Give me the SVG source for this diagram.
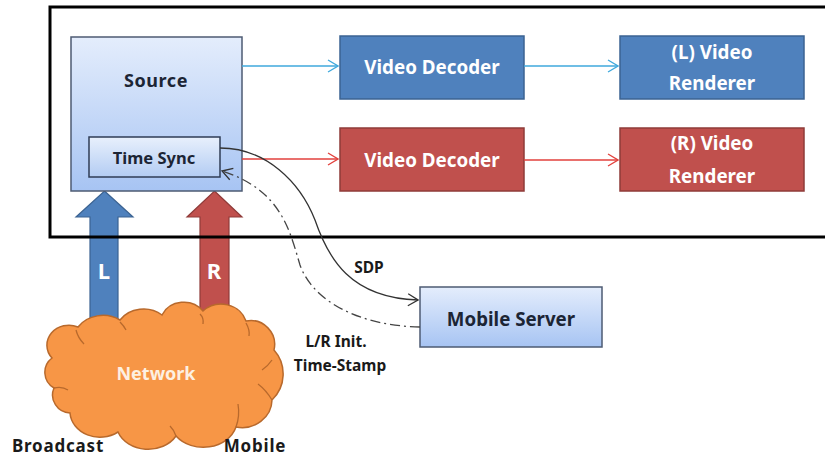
<svg xmlns="http://www.w3.org/2000/svg" width="825" height="459" viewBox="0 0 825 459">
  <style>
    .lbl { font-family: "Noto Sans", "Open Sans", sans-serif; font-weight: bold; text-anchor: middle; dominant-baseline: central; }
    .dark { fill: #1c2535; }
    .white { fill: #ffffff; }
    .blueBox { fill: #4f81bd; stroke: #3b6392; stroke-width: 1.5; }
    .redBox { fill: #c0504d; stroke: #8f3b39; stroke-width: 1.5; }
    .lightBox { fill: url(#lightBlue); stroke: #4d5b73; stroke-width: 1.5; }
    .conn { fill: none; stroke-width: 1.3; }
  </style>
  <defs>
    <linearGradient id="lightBlue" x1="0" y1="0" x2="0" y2="1">
      <stop offset="0" stop-color="#e4edfc"/>
      <stop offset="1" stop-color="#a7c4f3"/>
    </linearGradient>
    <linearGradient id="syncGrad" x1="0" y1="0" x2="0" y2="1">
      <stop offset="0" stop-color="#e8f0fc"/>
      <stop offset="1" stop-color="#b3ccf3"/>
    </linearGradient>
    <marker id="arrBlue" markerUnits="userSpaceOnUse" markerWidth="12" markerHeight="14" viewBox="0 0 12 14" refX="11" refY="7" orient="auto">
      <path d="M1,1 L11,7 L1,13" fill="none" stroke="#3fa9dd" stroke-width="1.3"/>
    </marker>
    <marker id="arrRed" markerUnits="userSpaceOnUse" markerWidth="12" markerHeight="14" viewBox="0 0 12 14" refX="11" refY="7" orient="auto">
      <path d="M1,1 L11,7 L1,13" fill="none" stroke="#e2403c" stroke-width="1.3"/>
    </marker>
    <marker id="arrDark" markerUnits="userSpaceOnUse" markerWidth="12" markerHeight="14" viewBox="0 0 12 14" refX="11" refY="7" orient="auto">
      <path d="M1,1 L11,7 L1,13" fill="none" stroke="#333333" stroke-width="1.3"/>
    </marker>
  </defs>

  <rect width="825" height="459" fill="#ffffff"/>

  <!-- block arrows from the network up into the source -->
  <g id="arrow-L">
    <path d="M104.5,191 L133,217 L118,217 L118,330 L90,330 L90,217 L76,217 Z" fill="#4f81bd" stroke="#3b6392" stroke-width="1.2"/>
    <text class="lbl white" x="104" y="270" font-size="22">L</text>
  </g>
  <g id="arrow-R">
    <path d="M214.5,191 L242,217 L229,217 L229,330 L200,330 L200,217 L187,217 Z" fill="#c0504d" stroke="#8f3b39" stroke-width="1.2"/>
    <text class="lbl white" x="214" y="270" font-size="22">R</text>
  </g>

  <!-- receiver frame -->
  <rect id="frame" x="50" y="7" width="790" height="230" fill="none" stroke="#000000" stroke-width="3"/>

  <g id="source">
    <rect class="lightBox" x="71" y="37" width="171" height="154"/>
    <text class="lbl dark" x="156" y="80" font-size="18" letter-spacing="0.6">Source</text>
  </g>
  <g id="time-sync">
    <rect x="89" y="137" width="131" height="40" fill="url(#syncGrad)" stroke="#2f3d55" stroke-width="1.5"/>
    <text class="lbl dark" x="154" y="157" font-size="16.5">Time Sync</text>
  </g>

  <g id="decoder-L">
    <rect class="blueBox" x="340" y="36" width="184" height="63"/>
    <text class="lbl white" x="432" y="67" font-size="18.8">Video Decoder</text>
  </g>
  <g id="renderer-L">
    <rect class="blueBox" x="620" y="36" width="184" height="63"/>
    <text class="lbl white" x="712" y="52" font-size="18.8">(L) Video</text>
    <text class="lbl white" x="712" y="83" font-size="18.8">Renderer</text>
  </g>
  <g id="decoder-R">
    <rect class="redBox" x="340" y="128" width="184" height="63"/>
    <text class="lbl white" x="432" y="160" font-size="18.8">Video Decoder</text>
  </g>
  <g id="renderer-R">
    <rect class="redBox" x="620" y="128" width="184" height="63"/>
    <text class="lbl white" x="712" y="143" font-size="18.8">(R) Video</text>
    <text class="lbl white" x="712" y="176" font-size="18.8">Renderer</text>
  </g>

  <g id="mobile-server">
    <rect class="lightBox" x="420" y="287" width="182" height="60"/>
    <text class="lbl dark" x="511" y="318" font-size="18.7">Mobile Server</text>
  </g>

  <!-- network cloud -->
  <g id="network">
    <path d="M52,358 A22,20 0 0 1 78,327 A30,26 0 0 1 120,320 A28,24 0 0 1 162,315 A24,22 0 0 1 203,311 A26,24 0 0 1 246,321 A24,24 0 0 1 274,350 A36,36 0 0 1 272,400 A30,28 0 0 1 236,427 A34,28 0 0 1 176,436 A32,26 0 0 1 118,432 A30,26 0 0 1 70,413 A18,18 0 0 1 54,388 A18,18 0 0 1 52,358 Z" fill="#f79646" stroke="#b8692c" stroke-width="1.5"/>
    <g fill="none" stroke="#b8692c" stroke-width="1.3">
      <path d="M54,388 Q62,386 68,390"/>
      <path d="M76,330 Q78,338 84,344"/>
      <path d="M120,322 Q124,326 126,330"/>
      <path d="M200,314 Q204,318 203,324"/>
      <path d="M246,323 Q250,330 249,336"/>
      <path d="M272,360 Q268,366 262,370"/>
      <path d="M272,400 Q266,390 258,384"/>
      <path d="M236,427 Q240,416 238,404"/>
      <path d="M176,436 Q174,430 170,426"/>
    </g>
    <text class="lbl" x="156" y="373" font-size="18" fill="#fdf0e2">Network</text>
  </g>

  <!-- connectors -->
  <g id="connectors">
    <path class="conn" d="M242,66 L338,66" stroke="#3fa9dd" marker-end="url(#arrBlue)"/>
    <path class="conn" d="M524,66 L618,66" stroke="#3fa9dd" marker-end="url(#arrBlue)"/>
    <path class="conn" d="M242,159 L338,159" stroke="#e2403c" marker-end="url(#arrRed)"/>
    <path class="conn" d="M524,160 L618,160" stroke="#e2403c" marker-end="url(#arrRed)"/>
    <path class="conn" d="M220,148 C266,148 300,182 315,220 C328,258 350,298 418,300" stroke="#333333" marker-end="url(#arrDark)"/>
    <path class="conn" d="M420,327 C364,326 314,304 300,265 C290,232 282,190 222,171" stroke="#444444" stroke-dasharray="10,4,2,4" marker-end="url(#arrDark)"/>
  </g>

  <!-- annotations -->
  <g id="annotations" font-family="Noto Sans, Open Sans, sans-serif" font-weight="bold" fill="#1a1a1a" text-anchor="middle" dominant-baseline="central">
    <text x="369" y="267" font-size="15.5">SDP</text>
    <text x="336" y="341" font-size="15.5">L/R Init.</text>
    <text x="340" y="365" font-size="15.5">Time-Stamp</text>
    <text x="58" y="445" font-size="17" letter-spacing="0.8">Broadcast</text>
    <text x="255" y="445" font-size="17" letter-spacing="0.8">Mobile</text>
  </g>
</svg>
